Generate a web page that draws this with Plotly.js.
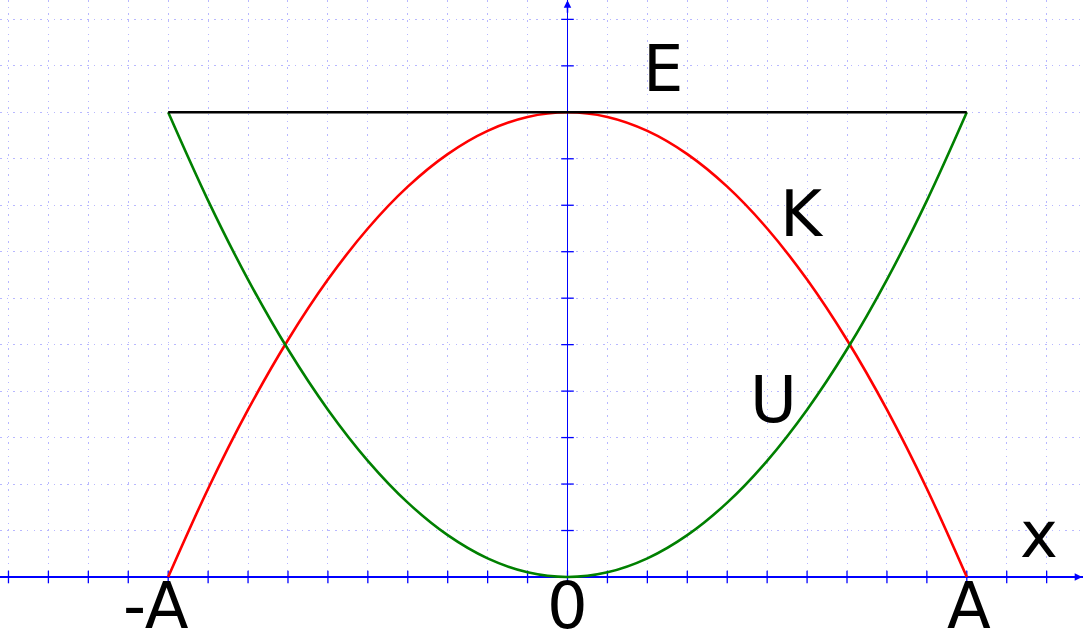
<!DOCTYPE html>
<html>
<head>
<meta charset="utf-8">
<script src="https://cdn.plot.ly/plotly-3.0.1.min.js"></script>
<style>html,body{margin:0;padding:0;background:#fff;}#chart{width:1083px;height:635px;}</style>
</head>
<body>
<div id="chart"></div>
<script>
// Positions in units where A = 10 and E = 10
const xValues = [-10,-9,-8,-7,-6,-5,-4,-3,-2,-1,0,1,2,3,4,5,6,7,8,9,10];
const kinetic = [0,1.9,3.6,5.1,6.4,7.5,8.4,9.1,9.6,9.9,10,9.9,9.6,9.1,8.4,7.5,6.4,5.1,3.6,1.9,0];
const potential = [10,8.1,6.4,4.9,3.6,2.5,1.6,0.9,0.4,0.1,0,0.1,0.4,0.9,1.6,2.5,3.6,4.9,6.4,8.1,10];
const energyX = [-10,10];
const energyY = [10,10];
const xTickPositions = [-14,-13,-12,-11,-10,-9,-8,-7,-6,-5,-4,-3,-2,-1,0,1,2,3,4,5,6,7,8,9,10,11,12];
const yTickPositions = [0,1,2,3,4,5,6,7,8,9,10,11,12];
const tickLabels = ['-A','0','A'];
const tickLabelPositions = [-10.3,0,10.05];
const curveLabels = ['E','K','U'];
const curveLabelX = [2.39,5.87,5.15];
const curveLabelY = [10.93,7.81,3.81];

const traces = [
  {x: xTickPositions, y: xTickPositions.map(()=>0), mode:'markers', hoverinfo:'skip', cliponaxis:false,
   marker:{symbol:'line-ns-open', size:9, color:'#0000ff', line:{width:1.3, color:'#0000ff'}}},
  {x: yTickPositions.map(()=>0), y: yTickPositions, mode:'markers', hoverinfo:'skip', cliponaxis:false,
   marker:{symbol:'line-ew-open', size:9, color:'#0000ff', line:{width:1.3, color:'#0000ff'}}},
  {x: xValues, y: kinetic, mode:'lines', cliponaxis:false, line:{color:'#ff0000', width:2.6, shape:'spline'}},
  {x: xValues, y: potential, mode:'lines', cliponaxis:false, line:{color:'#008000', width:2.6, shape:'spline'}},
  {x: energyX, y: energyY, mode:'lines', line:{color:'#000000', width:2.6}}
];

const font = {family:'DejaVu Sans', size:64, color:'#000'};
const annotations = [];
curveLabels.forEach((t,i)=>annotations.push({x:curveLabelX[i], y:curveLabelY[i], text:t, showarrow:false, xanchor:'center', yanchor:'middle', font}));
tickLabels.forEach((t,i)=>annotations.push({x:tickLabelPositions[i], yref:'paper', y:0.0457, text:t, showarrow:false, xanchor:'center', yanchor:'middle', font}));
annotations.push({x:11.81, y:0.9, text:'x', showarrow:false, xanchor:'center', yanchor:'middle', font});
// axis arrows
annotations.push({x:12.89, y:0, ax:-14, ay:0, text:'', showarrow:true, arrowhead:2, arrowsize:1, arrowwidth:1.5, arrowcolor:'#0000ff'});
annotations.push({x:0, y:12.41, ax:0, ay:14, text:'', showarrow:true, arrowhead:2, arrowsize:1, arrowwidth:1.5, arrowcolor:'#0000ff'});

const layout = {
  width:1083, height:635,
  margin:{l:0,r:0,t:0,b:0,pad:0},
  paper_bgcolor:'#fff', plot_bgcolor:'#fff',
  showlegend:false,
  xaxis:{range:[-14.212,12.91], dtick:1, tick0:0, showgrid:true, gridcolor:'#b8b8ff', griddash:'1.5px,5.2px', gridwidth:1,
         zeroline:true, zerolinecolor:'#0000ff', zerolinewidth:1.5, showticklabels:false, ticks:'', showline:false, fixedrange:true},
  yaxis:{domain:[0.0877,1], range:[-0.05,12.417], dtick:1, tick0:0, showgrid:true, gridcolor:'#b8b8ff', griddash:'1.5px,5.2px', gridwidth:1,
         zeroline:true, zerolinecolor:'#0000ff', zerolinewidth:1.5, showticklabels:false, ticks:'', showline:false, fixedrange:true},
  annotations
};
Plotly.newPlot('chart', traces, layout, {staticPlot:true, displayModeBar:false});
</script>
</body>
</html>
